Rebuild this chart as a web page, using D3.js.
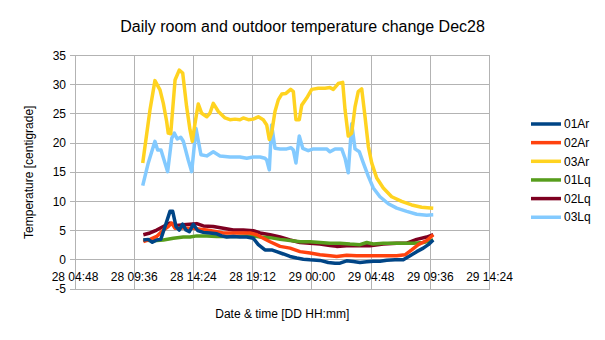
<!DOCTYPE html>
<html>
<head>
<meta charset="utf-8">
<script src="https://cdn.jsdelivr.net/npm/d3@7"></script>
<style>
  body { margin: 0; background: #fff; }
  text { font-family: "Liberation Sans", Arial, sans-serif; fill: #000; }
</style>
</head>
<body>
<svg id="chart" width="605" height="340"></svg>
<script>
// ---------- data (time = hours since Dec 28 00:00, value = °C) ----------
const seriesNames = ["01Ar", "02Ar", "03Ar", "01Lq", "02Lq", "03Lq"];
const seriesColors = ["#004586", "#ff420e", "#ffd320", "#579d1c", "#7e0021", "#83caff"];

const s01Ar = [[10.34,3.4],[10.74,3.5],[11.07,3.0],[11.42,3.4],[11.75,3.5],[12.10,5.7],[12.50,8.3],[12.72,8.3],[12.99,5.7],[13.25,5.1],[13.53,6.1],[13.80,5.1],[14.07,4.8],[14.39,6.1],[14.75,5.0],[15.20,4.7],[15.74,4.6],[16.29,4.45],[16.69,4.1],[17.10,3.9],[17.63,4.0],[18.17,3.9],[18.72,3.9],[19.25,3.7],[19.66,2.6],[20.20,1.7],[20.74,1.7],[21.15,1.4],[21.69,1.0],[22.23,0.57],[22.77,0.3],[23.31,0.1],[23.85,0.0],[24.66,-0.1],[25.33,-0.45],[25.88,-0.57],[26.28,-0.57],[26.82,-0.17],[27.36,-0.3],[27.90,-0.45],[28.45,-0.34],[28.98,-0.23],[29.52,-0.23],[30.07,-0.06],[30.74,0.0],[31.41,0.0],[31.96,0.7],[32.50,1.4],[33.03,2.0],[33.44,2.6],[33.84,3.4]];
const s02Ar = [[10.34,3.1],[10.88,3.5],[11.42,4.0],[11.96,5.1],[12.36,5.7],[12.64,6.3],[12.91,5.4],[13.31,5.5],[13.85,5.4],[14.39,5.4],[14.93,5.25],[15.48,5.1],[16.29,4.8],[16.82,4.6],[17.36,4.6],[18.17,4.6],[18.99,4.6],[19.53,4.3],[20.06,3.7],[20.61,3.1],[21.42,2.3],[22.23,2.0],[23.04,1.4],[23.85,1.15],[24.66,0.86],[25.47,0.7],[26.01,0.57],[26.82,0.8],[27.63,0.7],[28.71,0.7],[29.79,0.7],[30.88,0.7],[31.55,0.86],[32.09,1.7],[32.63,2.6],[33.31,3.3],[33.84,4.3]];
const s03Ar = [[10.29,16.6],[10.88,25.7],[11.28,30.7],[11.69,29.1],[11.96,26.8],[12.23,23.7],[12.36,21.7],[12.56,21.6],[12.91,30.8],[13.25,32.5],[13.53,32.0],[13.85,26.2],[14.12,22.3],[14.31,20.3],[14.53,23.4],[14.79,26.7],[15.07,25.1],[15.48,24.5],[15.74,25.1],[16.01,26.8],[16.42,25.4],[16.96,24.3],[17.36,24.0],[17.77,24.1],[18.17,24.0],[18.44,24.3],[18.85,24.0],[19.25,24.1],[19.66,24.5],[20.06,24.0],[20.34,23.1],[20.55,20.6],[20.74,21.7],[21.01,25.4],[21.28,27.4],[21.56,28.4],[21.90,28.5],[22.28,29.2],[22.50,28.8],[22.71,24.0],[22.98,24.0],[23.18,26.5],[23.58,27.7],[23.99,29.2],[24.52,29.4],[25.07,29.4],[25.47,29.5],[25.74,29.2],[26.14,30.2],[26.50,30.4],[26.69,25.7],[26.95,21.2],[27.23,21.7],[27.50,26.2],[27.76,28.8],[28.04,29.3],[28.31,24.5],[28.58,19.4],[28.85,16.6],[29.26,14.0],[29.79,12.3],[30.47,10.8],[31.28,10.0],[32.09,9.4],[32.90,9.0],[33.84,8.85]];
const s01Lq = [[10.34,3.4],[11.15,3.25],[11.96,3.4],[12.77,3.7],[13.58,3.9],[14.12,3.9],[14.67,4.1],[15.48,4.1],[16.29,4.0],[17.10,4.0],[17.91,4.0],[18.72,4.1],[19.25,4.1],[19.80,3.9],[20.61,3.8],[21.42,3.5],[22.23,3.3],[23.04,3.1],[23.85,3.1],[24.66,2.96],[25.47,2.85],[26.28,2.85],[27.09,2.7],[27.90,2.6],[28.45,2.96],[28.98,2.7],[29.79,2.85],[30.60,2.85],[31.41,2.85],[32.22,2.85],[33.03,2.96],[33.84,3.4]];
const s02Lq = [[10.34,4.3],[10.88,4.6],[11.42,5.1],[11.96,5.7],[12.50,6.3],[13.04,5.9],[13.58,6.0],[14.12,6.1],[14.67,6.2],[15.20,5.8],[16.01,5.7],[16.82,5.4],[17.63,5.1],[18.44,5.1],[19.25,5.0],[19.80,4.6],[20.61,4.3],[21.42,3.9],[22.23,3.4],[23.04,2.96],[23.85,2.85],[24.66,2.7],[25.47,2.45],[26.01,2.3],[26.82,2.4],[27.63,2.4],[28.71,2.4],[29.79,2.7],[30.88,2.85],[31.69,2.85],[32.50,3.5],[33.31,3.9],[33.84,4.3]];
const s03Lq = [[10.29,12.7],[10.74,16.6],[11.28,20.3],[11.50,18.8],[11.77,18.8],[12.31,15.1],[12.64,20.8],[12.85,21.7],[13.09,20.7],[13.37,21.0],[13.58,20.3],[13.98,17.1],[14.26,15.1],[14.61,22.5],[15.01,18.0],[15.48,17.8],[16.01,18.5],[16.55,17.8],[17.36,17.6],[18.17,17.6],[18.72,17.4],[19.25,17.6],[19.80,17.6],[20.20,17.4],[20.34,17.1],[20.55,15.4],[20.74,23.1],[21.01,19.1],[21.42,19.0],[21.96,19.0],[22.31,19.2],[22.50,18.8],[22.71,16.6],[22.98,21.2],[23.26,19.1],[23.71,18.7],[24.12,19.0],[24.80,19.0],[25.20,19.0],[25.47,18.5],[25.88,19.0],[26.42,19.0],[26.69,17.4],[26.95,14.9],[27.23,23.3],[27.50,19.0],[27.85,18.5],[28.17,16.6],[28.58,14.3],[28.98,12.3],[29.52,10.8],[30.20,9.6],[30.88,8.85],[31.69,8.3],[32.50,7.8],[33.31,7.65],[33.84,7.7]];

const xTickHours = [4.8, 9.6, 14.4, 19.2, 24.0, 28.8, 33.6, 38.4];
const xTickLabels = ["28 04:48", "28 09:36", "28 14:24", "28 19:12", "29 00:00", "29 04:48", "29 09:36", "29 14:24"];
const yTicks = [-5, 0, 5, 10, 15, 20, 25, 30, 35];

const titleText = "Daily room and outdoor temperature change Dec28";
const xTitle = "Date & time [DD HH:mm]";
const yTitle = "Temperature [centigrade]";

// ---------- drawing ----------
const allSeries = [s01Ar, s02Ar, s03Ar, s01Lq, s02Lq, s03Lq];
const svg = d3.select("#chart");
const plot = { left: 75, right: 489.5, top: 55.5, bottom: 289 };

const x = d3.scaleLinear().domain([4.8, 38.4]).range([plot.left, plot.right]);
const y = d3.scaleLinear().domain([-5, 35]).range([plot.bottom, plot.top]);
const gridColor = "#b3b3b3";

// horizontal grid
svg.append("g").selectAll("line").data(yTicks).join("line")
  .attr("x1", plot.left - 5).attr("x2", plot.right)
  .attr("y1", d => y(d)).attr("y2", d => y(d))
  .attr("stroke", gridColor).attr("stroke-width", 1).attr("shape-rendering", "crispEdges");

// vertical grid
svg.append("g").selectAll("line").data(xTickHours).join("line")
  .attr("x1", d => x(d)).attr("x2", d => x(d))
  .attr("y1", plot.top).attr("y2", plot.bottom)
  .attr("stroke", gridColor).attr("stroke-width", 1).attr("shape-rendering", "crispEdges");

// y tick labels
svg.append("g").selectAll("text").data(yTicks).join("text")
  .attr("x", 66).attr("y", d => y(d)).attr("dy", "0.35em")
  .attr("text-anchor", "end").attr("font-size", 12)
  .text(d => d);

// x tick labels (axis crosses at 0)
svg.append("g").selectAll("text").data(xTickHours).join("text")
  .attr("x", d => x(d)).attr("y", y(0) + 21)
  .attr("text-anchor", "middle").attr("font-size", 12)
  .text((d, i) => xTickLabels[i]);

// lines (drawn last series first)
const line = d3.line().x(d => x(d[0])).y(d => y(d[1]));
const order = d3.range(allSeries.length).reverse();
svg.append("g").selectAll("path").data(order).join("path")
  .attr("d", i => line(allSeries[i]))
  .attr("fill", "none")
  .attr("stroke", i => seriesColors[i])
  .attr("stroke-width", 3.5)
  .attr("stroke-linejoin", "round")
  .attr("stroke-linecap", "butt");

// titles
svg.append("text").attr("x", 302.5).attr("y", 32).attr("text-anchor", "middle")
  .attr("font-size", 16).text(titleText);
svg.append("text").attr("x", (plot.left + plot.right) / 2).attr("y", 318)
  .attr("text-anchor", "middle").attr("font-size", 12).text(xTitle);
svg.append("text")
  .attr("transform", `translate(33,${(plot.top + plot.bottom) / 2}) rotate(-90)`)
  .attr("text-anchor", "middle").attr("font-size", 12).text(yTitle);

// legend
const legend = svg.append("g");
seriesNames.forEach((name, i) => {
  const ly = 124 + i * 18.65;
  legend.append("line").attr("x1", 531).attr("x2", 561).attr("y1", ly).attr("y2", ly)
    .attr("stroke", seriesColors[i]).attr("stroke-width", 3.5);
  legend.append("text").attr("x", 564).attr("y", ly).attr("dy", "0.35em")
    .attr("font-size", 12).text(name);
});
</script>
</body>
</html>
